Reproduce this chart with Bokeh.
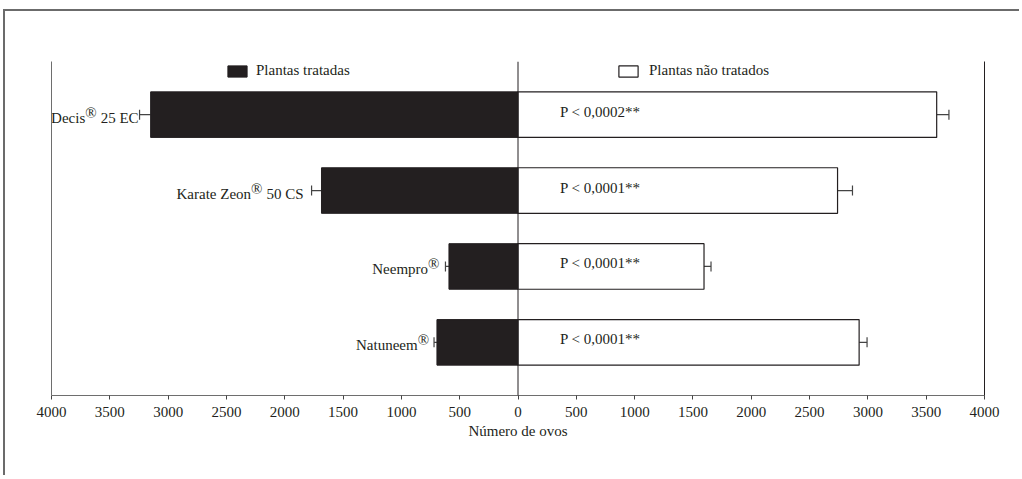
from bokeh.plotting import figure
from bokeh.models import (Range1d, LinearAxis, FixedTicker, Whisker, ColumnDataSource,
                          Span, Legend, LegendItem, TeeHead)
from bokeh.embed import file_html
from bokeh.resources import INLINE
from bokeh.core.properties import value

# ---- data ----
categories = ["Decis® 25 EC", "Karate Zeon® 50 CS", "Neempro®", "Natuneem®"]
treated = [3150, 1685, 592, 695]
treated_err = [95, 85, 30, 25]
untreated = [3590, 2740, 1595, 2925]
untreated_err = [105, 128, 60, 68]
p_labels = ["P < 0,0002**", "P < 0,0001**", "P < 0,0001**", "P < 0,0001**"]
tick_values = list(range(-4000, 4001, 500))
tick_labels = {t: str(abs(t)) for t in tick_values}

# style: pixel gap between each category label and its error-bar cap
label_gaps = [-1, -8, -6, -5]

FONT = "Liberation Serif"
DARK = "#231f20"
GRAY = "#6e6e6e"
MAIN_PX = 15
REG_PX = 15

# Times / Liberation Serif advance widths (per 1000 em) for measuring label pieces
TW = {" ": 250, "0": 500, "2": 500, "5": 500, "E": 611, "C": 667, "S": 556}


def text_w(s, px):
    return sum(TW.get(ch, 500) for ch in s) * px / 1000.0


idx = list(range(len(categories)))
t_lo = [-(v + e) for v, e in zip(treated, treated_err)]
src = ColumnDataSource(dict(
    y=idx,
    t_left=[-v for v in treated],
    t_lo=t_lo,
    u_right=untreated,
    u_hi=[v + e for v, e in zip(untreated, untreated_err)],
    zero=[0] * len(idx),
    plab=p_labels,
))

# label pieces: prefix, superscript ®, suffix (right aligned chain)
prefixes = [c.split("®")[0] for c in categories]
suffixes = [c.split("®")[1].strip() if "®" in c else "" for c in categories]
gap = 4.0
suf_w = [text_w(s, MAIN_PX) + (gap if s else 0) for s in suffixes]
reg_w = 760 * REG_PX / 1000.0
lab_src = ColumnDataSource(dict(
    x=t_lo, y=idx,
    pre=prefixes, suf=suffixes, reg=["®"] * len(idx),
    off_suf=[g for g in label_gaps],
    off_reg=[g - w for g, w in zip(label_gaps, suf_w)],
    off_pre=[g - w - reg_w for g, w in zip(label_gaps, suf_w)],
))

p = figure(width=1016, height=466, output_backend="svg", toolbar_location=None,
           x_range=Range1d(-4000, 4000), y_range=Range1d(3.7, -0.7),
           x_axis_location=None, y_axis_location=None,
           min_border_left=46, min_border_right=37, min_border_top=50, min_border_bottom=82)
p.outline_line_color = None
p.xgrid.visible = False
p.ygrid.visible = False
p.styles = {"border-top": "2px solid #6b6b6b", "border-left": "2px solid #6b6b6b",
            "margin-left": "3px", "margin-top": "9px"}

# axes
bottom = LinearAxis(ticker=FixedTicker(ticks=tick_values), major_label_overrides=tick_labels)
bottom.axis_line_color = GRAY
bottom.major_tick_line_color = "#444444"
bottom.major_tick_in = 0
bottom.major_tick_out = 4
bottom.minor_tick_line_color = None
bottom.major_label_text_font = FONT
bottom.major_label_text_font_size = "15px"
bottom.major_label_text_color = DARK
bottom.major_label_standoff = 7
bottom.axis_label = "Número de ovos"
bottom.axis_label_text_font = FONT
bottom.axis_label_text_font_size = "15px"
bottom.axis_label_text_font_style = "normal"
bottom.axis_label_text_color = DARK
bottom.axis_label_standoff = 3
p.add_layout(bottom, "below")

for side, col in (("left", GRAY), ("right", DARK)):
    ax = LinearAxis(ticker=FixedTicker(ticks=[]))
    ax.axis_line_color = col
    ax.major_tick_line_color = None
    ax.minor_tick_line_color = None
    ax.major_label_text_font_size = "0px"
    p.add_layout(ax, side)

p.add_layout(Span(location=0, dimension="height", line_color=DARK, line_width=1))

# category labels (with superscript ®)
common = dict(source=lab_src, text_align="right", text_font=value(FONT), text_color=DARK,
              text_baseline="middle")
p.text(x="x", y="y", text="suf", x_offset="off_suf", y_offset=3,
       text_font_size=f"{MAIN_PX}px", **common)
p.text(x="x", y="y", text="reg", x_offset="off_reg", y_offset=-2,
       text_font_size=f"{REG_PX}px", **common)
p.text(x="x", y="y", text="pre", x_offset="off_pre", y_offset=3,
       text_font_size=f"{MAIN_PX}px", **common)

# bars
r_t = p.hbar(y="y", left="t_left", right="zero", height=0.6, source=src,
             fill_color=DARK, line_color=DARK)
r_u = p.hbar(y="y", left="zero", right="u_right", height=0.6, source=src,
             fill_color="white", line_color=DARK, line_width=1.2)

# error bars
p.add_layout(Whisker(source=src, base="y", lower="t_lo", upper="t_left", dimension="width",
                     line_color="#444444", line_width=1.2, upper_head=None,
                     lower_head=TeeHead(size=10, line_color="#444444", line_width=1.2)))
p.add_layout(Whisker(source=src, base="y", lower="u_right", upper="u_hi", dimension="width",
                     line_color="#444444", line_width=1.2, lower_head=None,
                     upper_head=TeeHead(size=10, line_color="#444444", line_width=1.2)))

# p-value labels
p.text(x="zero", y="y", text="plab", source=src, text_align="left", text_baseline="middle",
       x_offset=42, y_offset=-3, text_font=value(FONT), text_font_size="15px", text_color=DARK)

# legends
def mk_legend(label, rend, loc, standoff):
    lg = Legend(items=[LegendItem(label=label, renderers=[rend])], location=loc,
                orientation="horizontal", padding=0, margin=0, spacing=0,
                glyph_width=24, glyph_height=14, label_height=14, label_standoff=standoff,
                border_line_alpha=0, background_fill_alpha=0,
                label_text_font=FONT, label_text_font_size="15px", label_text_color=DARK)
    p.add_layout(lg, "center")

mk_legend("Plantas tratadas", r_t, (174, 316), 7)
mk_legend("Plantas não tratados", r_u, (565, 316), 9)

open("out.html", "w").write(file_html(p, INLINE))
